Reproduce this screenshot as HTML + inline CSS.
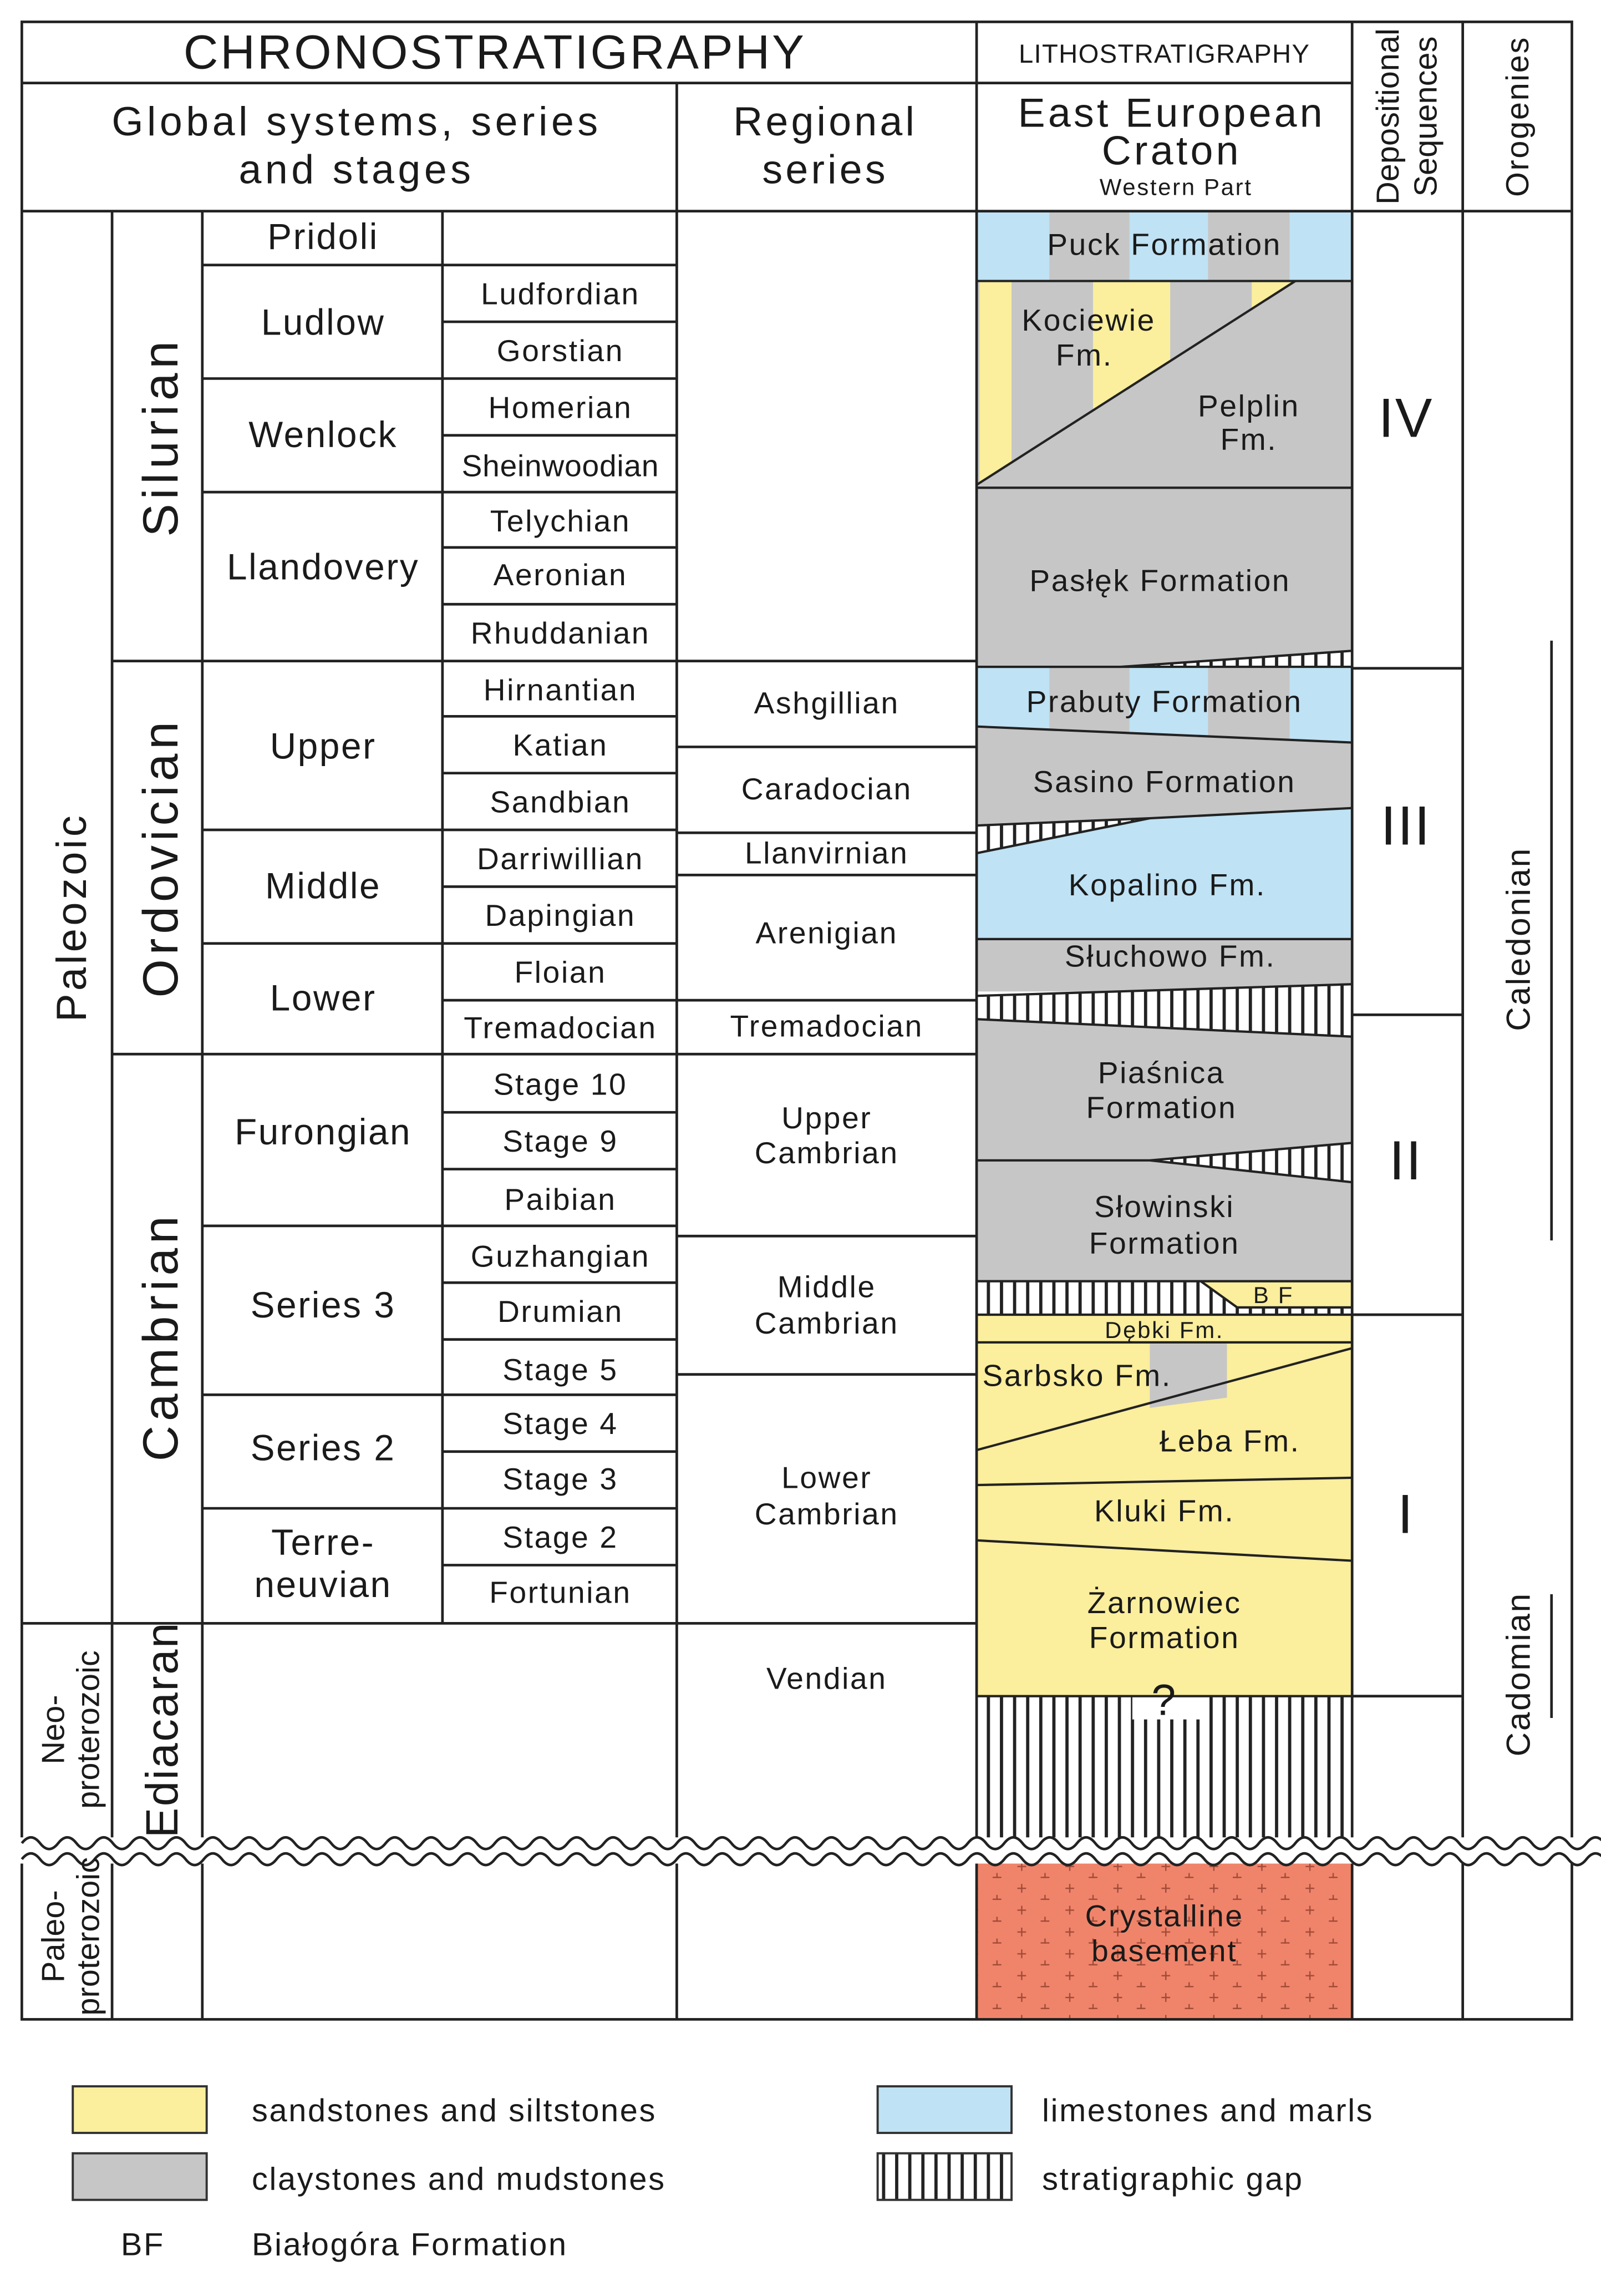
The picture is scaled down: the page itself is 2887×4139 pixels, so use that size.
<!DOCTYPE html>
<html><head><meta charset="utf-8"><style>
html,body{margin:0;padding:0;background:#fff}
svg{display:block}
text{font-family:"Liberation Sans",sans-serif;fill:#1a1a1a;letter-spacing:1px}
</style></head><body>
<svg width="2887" height="4139" viewBox="0 0 1100 1577" xmlns="http://www.w3.org/2000/svg">
<defs>
<pattern id="hat" width="9" height="10" patternUnits="userSpaceOnUse">
<rect width="9" height="10" fill="#fff"/><rect x="3" width="2.2" height="10" fill="#222"/>
</pattern>
<pattern id="plus" width="33" height="15" patternUnits="userSpaceOnUse">
<rect width="33" height="15" fill="#f0846a"/>
<path d="M6 7h6M9 4v6" stroke="#a04a38" stroke-width="0.9"/>
<path d="M22 14.5h6M25 11.5v6" stroke="#a04a38" stroke-width="0.9"/>
</pattern>
</defs>
<rect width="1100" height="1577" fill="#fff"/>

<g stroke="none">
<rect x="671" y="145" width="258" height="48" fill="#bfe2f4"/>
<rect x="721" y="145" width="55" height="48" fill="#c6c6c6"/>
<rect x="830" y="145" width="56" height="48" fill="#c6c6c6"/>
<rect x="671" y="193" width="258" height="142" fill="#c6c6c6"/>
<rect x="673" y="193" width="22" height="142" fill="#fbee9c"/>
<rect x="751" y="193" width="53" height="142" fill="#fbee9c"/>
<rect x="860" y="193" width="33" height="142" fill="#fbee9c"/>
<polygon points="671,333 890,193 929,193 929,335 671,335" fill="#c6c6c6"/>
<rect x="671" y="335" width="258" height="123" fill="#c6c6c6"/>
<polygon points="770,458 929,447 929,458" fill="url(#hat)"/>
<rect x="671" y="458" width="258" height="54" fill="#bfe2f4"/>
<rect x="721" y="458" width="55" height="54" fill="#c6c6c6"/>
<rect x="830" y="458" width="56" height="54" fill="#c6c6c6"/>
<polygon points="671,499 929,510 929,555 790,562 671,567" fill="#c6c6c6"/>
<polygon points="671,567 790,562 671,586" fill="url(#hat)"/>
<polygon points="671,586 790,562 929,555 929,645 671,645" fill="#bfe2f4"/>
<rect x="671" y="645" width="258" height="36" fill="#c6c6c6"/>
<polygon points="671,684 929,676 929,712 671,700" fill="url(#hat)"/>
<polygon points="671,700 929,712 929,785 790,797 671,797" fill="#c6c6c6"/>
<polygon points="790,797 929,785 929,812" fill="url(#hat)"/>
<polygon points="671,797 790,797 929,812 929,880 671,880" fill="#c6c6c6"/>
<rect x="671" y="880" width="258" height="23" fill="url(#hat)"/>
<polygon points="825,880 929,880 929,898 850,898" fill="#fbee9c"/>
<rect x="671" y="903" width="258" height="262" fill="#fbee9c"/>
<polygon points="790,923 843,923 843,960 790,967" fill="#c6c6c6"/>
<rect x="671" y="1165" width="258" height="105" fill="url(#hat)"/>
<rect x="778" y="1165" width="52" height="16" fill="#fff"/>
<rect x="671" y="1272" width="258" height="115" fill="url(#plus)"/>
</g>
<g stroke="#222" stroke-width="1.6" fill="none">
<line x1="671" y1="193" x2="929" y2="193"/>
<line x1="671" y1="333" x2="890" y2="193"/>
<line x1="671" y1="335" x2="929" y2="335"/>
<polyline points="671,458 770,458 929,447"/>
<line x1="671" y1="458" x2="929" y2="458"/>
<line x1="671" y1="499" x2="929" y2="510"/>
<polyline points="671,567 790,562 929,555"/>
<line x1="671" y1="586" x2="790" y2="562"/>
<line x1="671" y1="645" x2="929" y2="645"/>
<line x1="671" y1="684" x2="929" y2="676"/>
<line x1="671" y1="700" x2="929" y2="712"/>
<polyline points="671,797 790,797 929,785"/>
<line x1="790" y1="797" x2="929" y2="812"/>
<line x1="671" y1="880" x2="929" y2="880"/>
<polyline points="825,880 850,898 929,898"/>
<line x1="671" y1="903" x2="929" y2="903"/>
<line x1="671" y1="922" x2="929" y2="922"/>
<line x1="671" y1="996" x2="929" y2="926"/>
<line x1="671" y1="1020" x2="929" y2="1015"/>
<line x1="671" y1="1058" x2="929" y2="1072"/>
<line x1="671" y1="1165" x2="929" y2="1165"/>
</g>

<g stroke="#222" stroke-width="1.8" fill="none">
<rect x="15" y="15" width="1065" height="1372"/>
<line x1="15" y1="57" x2="929" y2="57"/>
<line x1="15" y1="145" x2="1080" y2="145"/>
<line x1="671" y1="15" x2="671" y2="1387"/>
<line x1="929" y1="15" x2="929" y2="1387"/>
<line x1="1005" y1="15" x2="1005" y2="1387"/>
<line x1="465" y1="57" x2="465" y2="1387"/>
<line x1="77" y1="145" x2="77" y2="1387"/>
<line x1="139" y1="145" x2="139" y2="1387"/>
<line x1="304" y1="145" x2="304" y2="1115"/>
<line x1="15" y1="1115" x2="671" y2="1115"/>
<line x1="77" y1="454" x2="671" y2="454"/>
<line x1="77" y1="724" x2="671" y2="724"/>
<line x1="139" y1="182" x2="465" y2="182"/>
<line x1="139" y1="260" x2="465" y2="260"/>
<line x1="139" y1="338" x2="465" y2="338"/>
<line x1="139" y1="570" x2="465" y2="570"/>
<line x1="139" y1="648" x2="465" y2="648"/>
<line x1="139" y1="842" x2="465" y2="842"/>
<line x1="139" y1="958" x2="465" y2="958"/>
<line x1="139" y1="1036" x2="465" y2="1036"/>
<g>
<line x1="304" y1="221" x2="465" y2="221"/><line x1="304" y1="299" x2="465" y2="299"/>
<line x1="304" y1="376" x2="465" y2="376"/><line x1="304" y1="415" x2="465" y2="415"/>
<line x1="304" y1="492" x2="465" y2="492"/><line x1="304" y1="531" x2="465" y2="531"/>
<line x1="304" y1="609" x2="465" y2="609"/><line x1="304" y1="687" x2="465" y2="687"/>
<line x1="304" y1="764" x2="465" y2="764"/><line x1="304" y1="803" x2="465" y2="803"/>
<line x1="304" y1="881" x2="465" y2="881"/><line x1="304" y1="920" x2="465" y2="920"/>
<line x1="304" y1="997" x2="465" y2="997"/><line x1="304" y1="1075" x2="465" y2="1075"/>
</g>
<line x1="465" y1="513" x2="671" y2="513"/>
<line x1="465" y1="572" x2="671" y2="572"/>
<line x1="465" y1="601" x2="671" y2="601"/>
<line x1="465" y1="687" x2="671" y2="687"/>
<line x1="465" y1="849" x2="671" y2="849"/>
<line x1="465" y1="944" x2="671" y2="944"/>
<line x1="929" y1="459" x2="1005" y2="459"/>
<line x1="929" y1="697" x2="1005" y2="697"/>
<line x1="929" y1="903" x2="1005" y2="903"/>
<line x1="929" y1="1165" x2="1005" y2="1165"/>
<line x1="1066" y1="440" x2="1066" y2="852"/>
<line x1="1066" y1="1095" x2="1066" y2="1180"/>
</g>

<rect x="14" y="1262" width="1068" height="18" fill="#fff"/>
<g stroke="#222" stroke-width="1.8" fill="none">
<path d="M15 1266 q6.25 -8 12.5 0 t12.5 0 t12.5 0 t12.5 0 t12.5 0 t12.5 0 t12.5 0 t12.5 0 t12.5 0 t12.5 0 t12.5 0 t12.5 0 t12.5 0 t12.5 0 t12.5 0 t12.5 0 t12.5 0 t12.5 0 t12.5 0 t12.5 0 t12.5 0 t12.5 0 t12.5 0 t12.5 0 t12.5 0 t12.5 0 t12.5 0 t12.5 0 t12.5 0 t12.5 0 t12.5 0 t12.5 0 t12.5 0 t12.5 0 t12.5 0 t12.5 0 t12.5 0 t12.5 0 t12.5 0 t12.5 0 t12.5 0 t12.5 0 t12.5 0 t12.5 0 t12.5 0 t12.5 0 t12.5 0 t12.5 0 t12.5 0 t12.5 0 t12.5 0 t12.5 0 t12.5 0 t12.5 0 t12.5 0 t12.5 0 t12.5 0 t12.5 0 t12.5 0 t12.5 0 t12.5 0 t12.5 0 t12.5 0 t12.5 0 t12.5 0 t12.5 0 t12.5 0 t12.5 0 t12.5 0 t12.5 0 t12.5 0 t12.5 0 t12.5 0 t12.5 0 t12.5 0 t12.5 0 t12.5 0 t12.5 0 t12.5 0 t12.5 0 t12.5 0 t12.5 0 t12.5 0 t12.5 0 t12.5 0 t12.5 0 t12.5 0 t12.5 0"/>
<path d="M15 1277 q6.25 -8 12.5 0 t12.5 0 t12.5 0 t12.5 0 t12.5 0 t12.5 0 t12.5 0 t12.5 0 t12.5 0 t12.5 0 t12.5 0 t12.5 0 t12.5 0 t12.5 0 t12.5 0 t12.5 0 t12.5 0 t12.5 0 t12.5 0 t12.5 0 t12.5 0 t12.5 0 t12.5 0 t12.5 0 t12.5 0 t12.5 0 t12.5 0 t12.5 0 t12.5 0 t12.5 0 t12.5 0 t12.5 0 t12.5 0 t12.5 0 t12.5 0 t12.5 0 t12.5 0 t12.5 0 t12.5 0 t12.5 0 t12.5 0 t12.5 0 t12.5 0 t12.5 0 t12.5 0 t12.5 0 t12.5 0 t12.5 0 t12.5 0 t12.5 0 t12.5 0 t12.5 0 t12.5 0 t12.5 0 t12.5 0 t12.5 0 t12.5 0 t12.5 0 t12.5 0 t12.5 0 t12.5 0 t12.5 0 t12.5 0 t12.5 0 t12.5 0 t12.5 0 t12.5 0 t12.5 0 t12.5 0 t12.5 0 t12.5 0 t12.5 0 t12.5 0 t12.5 0 t12.5 0 t12.5 0 t12.5 0 t12.5 0 t12.5 0 t12.5 0 t12.5 0 t12.5 0 t12.5 0 t12.5 0 t12.5 0 t12.5 0 t12.5 0"/>
</g>

<g text-anchor="middle">
<text x="340" y="47" font-size="33" style="letter-spacing:1.5px">CHRONOSTRATIGRAPHY</text>
<text x="800" y="43" font-size="18" style="letter-spacing:0.5px">LITHOSTRATIGRAPHY</text>
<text x="245" y="93" font-size="28" style="letter-spacing:2.5px">Global systems, series</text>
<text x="245" y="126" font-size="28" style="letter-spacing:2.5px">and stages</text>
<text x="567" y="93" font-size="28" style="letter-spacing:2px">Regional</text>
<text x="567" y="126" font-size="28" style="letter-spacing:2px">series</text>
<text x="805" y="87" font-size="28" style="letter-spacing:2px">East European</text>
<text x="805" y="113" font-size="28" style="letter-spacing:2px">Craton</text>
<text x="808" y="134" font-size="16">Western Part</text>
<text transform="translate(961,80) rotate(-90)" font-size="22" style="letter-spacing:0">Depositional</text>
<text transform="translate(987,80) rotate(-90)" font-size="22" style="letter-spacing:0">Sequences</text>
<text transform="translate(1050,80) rotate(-90)" font-size="22">Orogenies</text>
</g>

<g text-anchor="middle">
<text transform="translate(59,630) rotate(-90)" font-size="29" style="letter-spacing:2px">Paleozoic</text>
<text transform="translate(122,300) rotate(-90)" font-size="34" style="letter-spacing:3px">Silurian</text>
<text transform="translate(122,589) rotate(-90)" font-size="34" style="letter-spacing:3px">Ordovician</text>
<text transform="translate(122,918) rotate(-90)" font-size="34" style="letter-spacing:3px">Cambrian</text>
<text transform="translate(122,1188) rotate(-90)" font-size="31" style="letter-spacing:1px">Ediacaran</text>
<text transform="translate(44,1188) rotate(-90)" font-size="22" style="letter-spacing:0">Neo-</text>
<text transform="translate(68,1188) rotate(-90)" font-size="22" style="letter-spacing:0">proterozoic</text>
<text transform="translate(44,1330) rotate(-90)" font-size="22" style="letter-spacing:0">Paleo-</text>
<text transform="translate(68,1330) rotate(-90)" font-size="22" style="letter-spacing:0">proterozoic</text>
</g>

<g text-anchor="middle" font-size="25">
<text x="222" y="171">Pridoli</text>
<text x="222" y="230">Ludlow</text>
<text x="222" y="307">Wenlock</text>
<text x="222" y="398">Llandovery</text>
<text x="222" y="521">Upper</text>
<text x="222" y="617">Middle</text>
<text x="222" y="694">Lower</text>
<text x="222" y="786">Furongian</text>
<text x="222" y="905">Series 3</text>
<text x="222" y="1003">Series 2</text>
<text x="222" y="1068">Terre-</text>
<text x="222" y="1097">neuvian</text>
</g>
<g text-anchor="middle" font-size="21">
<text x="385" y="209">Ludfordian</text>
<text x="385" y="248">Gorstian</text>
<text x="385" y="287">Homerian</text>
<text x="385" y="327" style="letter-spacing:0.3px">Sheinwoodian</text>
<text x="385" y="365">Telychian</text>
<text x="385" y="402">Aeronian</text>
<text x="385" y="442">Rhuddanian</text>
<text x="385" y="481">Hirnantian</text>
<text x="385" y="519">Katian</text>
<text x="385" y="558">Sandbian</text>
<text x="385" y="597">Darriwillian</text>
<text x="385" y="636">Dapingian</text>
<text x="385" y="675">Floian</text>
<text x="385" y="713">Tremadocian</text>
<text x="385" y="752">Stage 10</text>
<text x="385" y="791">Stage 9</text>
<text x="385" y="831">Paibian</text>
<text x="385" y="870">Guzhangian</text>
<text x="385" y="908">Drumian</text>
<text x="385" y="948">Stage 5</text>
<text x="385" y="985">Stage 4</text>
<text x="385" y="1023">Stage 3</text>
<text x="385" y="1063">Stage 2</text>
<text x="385" y="1101">Fortunian</text>
</g>
<g text-anchor="middle" font-size="21">
<text x="568" y="490">Ashgillian</text>
<text x="568" y="549">Caradocian</text>
<text x="568" y="593">Llanvirnian</text>
<text x="568" y="648">Arenigian</text>
<text x="568" y="712">Tremadocian</text>
<text x="568" y="775">Upper</text>
<text x="568" y="799">Cambrian</text>
<text x="568" y="891">Middle</text>
<text x="568" y="916">Cambrian</text>
<text x="568" y="1022">Lower</text>
<text x="568" y="1047">Cambrian</text>
<text x="568" y="1160">Vendian</text>
</g>
<g text-anchor="middle" font-size="21" style="letter-spacing:1.5px">
<text x="800" y="175">Puck Formation</text>
<text x="748" y="227">Kociewie</text>
<text x="745" y="251">Fm.</text>
<text x="858" y="286">Pelplin</text>
<text x="858" y="309">Fm.</text>
<text x="797" y="406">Pasłęk Formation</text>
<text x="800" y="489">Prabuty Formation</text>
<text x="800" y="544">Sasino Formation</text>
<text x="802" y="615">Kopalino Fm.</text>
<text x="804" y="664">Słuchowo Fm.</text>
<text x="798" y="744">Piaśnica</text>
<text x="798" y="768">Formation</text>
<text x="800" y="836">Słowinski</text>
<text x="800" y="861">Formation</text>
<text x="875" y="895" font-size="16">B F</text>
<text x="800" y="919" font-size="16">Dębki Fm.</text>
<text x="740" y="952">Sarbsko Fm.</text>
<text x="845" y="997">Łeba Fm.</text>
<text x="800" y="1045">Kluki Fm.</text>
<text x="800" y="1108">Żarnowiec</text>
<text x="800" y="1132">Formation</text>
<text x="800" y="1178" font-size="30">?</text>
<text x="800" y="1323">Crystalline</text>
<text x="800" y="1347">basement</text>
</g>
<g text-anchor="middle" font-size="38">
<text x="966" y="300">IV</text>
<text x="966" y="580">III</text>
<text x="966" y="810">II</text>
<text x="966" y="1053">I</text>
</g>
<g text-anchor="middle" font-size="23">
<text transform="translate(1051,645) rotate(-90)">Caledonian</text>
<text transform="translate(1051,1150) rotate(-90)">Cadomian</text>
</g>

<g stroke="#333" stroke-width="1.5">
<rect x="50" y="1433" width="92" height="32" fill="#fbee9c"/>
<rect x="50" y="1479" width="92" height="32" fill="#c6c6c6"/>
<rect x="603" y="1433" width="92" height="32" fill="#bfe2f4"/>
<rect x="603" y="1479" width="92" height="32" fill="url(#hat)"/>
</g>
<g font-size="22" style="letter-spacing:1.5px">
<text x="173" y="1457">sandstones and siltstones</text>
<text x="173" y="1504">claystones and mudstones</text>
<text x="716" y="1457">limestones and marls</text>
<text x="716" y="1504">stratigraphic gap</text>
<text x="83" y="1549">BF</text>
<text x="173" y="1549">Białogóra Formation</text>
</g>
</svg>
</body></html>
